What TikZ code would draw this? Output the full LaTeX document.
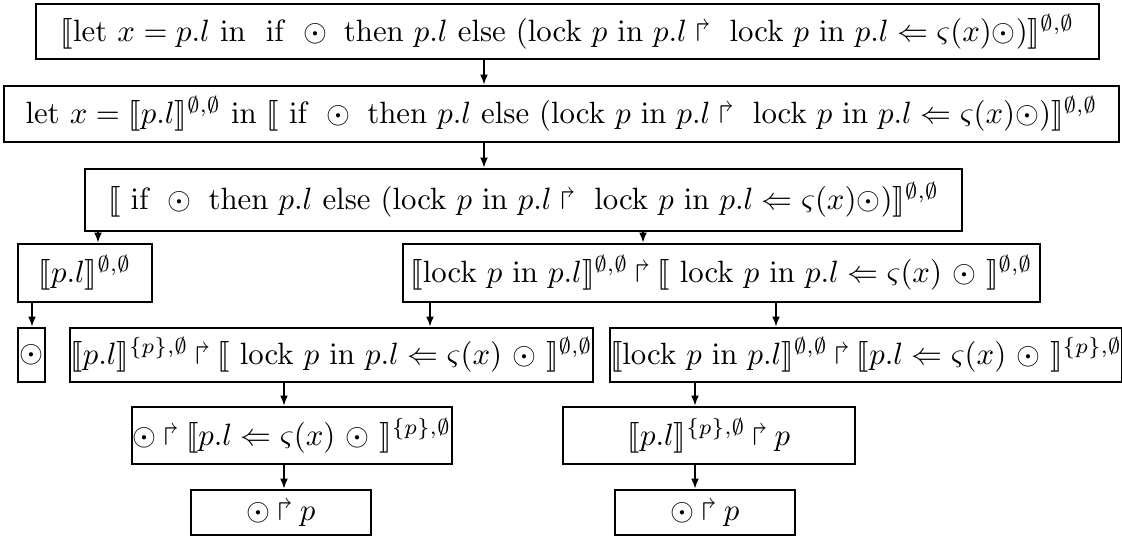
\RequirePackage{fix-cm}
\documentclass[tikz,border=0pt]{standalone}
\usepackage{amsmath,amssymb,stmaryrd}
\usetikzlibrary{arrows.meta}
\newcommand\pxu{0.357pt}
\newcommand\kw[1]{\mathrm{#1}}
\newcommand\seqr{\mathbin{\Rsh}}

\begin{document}
\begin{tikzpicture}[x=\pxu,y=-\pxu,>={Latex[length=3.6pt,width=2.8pt]},
font=\fontsize{11}{13.2}\selectfont,
box/.style 2 args={draw,line width=1pt,inner sep=0pt,minimum width=#1*\pxu,minimum height=#2*\pxu},
arr/.style={->,line width=.5pt}]
\useasboundingbox (0,0) rectangle (1122,538);
\node[box={1063}{55}] (b1) at (567.5,31.5) {$\llbracket\kw{let}\ x=p.l\ \kw{in}\ \ \kw{if}\ \odot\ \kw{then}\ p.l\ \kw{else}\ (\kw{lock}\ p\ \kw{in}\ p.l\Rsh\ \kw{lock}\ p\ \kw{in}\ p.l\Leftarrow\varsigma(x)\odot)\rrbracket^{\emptyset,\emptyset}$};
\node[box={1115}{56}] (b2) at (561.5,114) {$\kw{let}\ x=\llbracket p.l\rrbracket^{\emptyset,\emptyset}\ \kw{in}\ \llbracket\ \kw{if}\ \odot\ \kw{then}\ p.l\ \kw{else}\ (\kw{lock}\ p\ \kw{in}\ p.l\Rsh\ \kw{lock}\ p\ \kw{in}\ p.l\Leftarrow\varsigma(x)\odot)\rrbracket^{\emptyset,\emptyset}$};
\node[box={877}{62}] (b3) at (523.5,200) {$\llbracket\ \kw{if}\ \odot\ \kw{then}\ p.l\ \kw{else}\ (\kw{lock}\ p\ \kw{in}\ p.l\Rsh\ \kw{lock}\ p\ \kw{in}\ p.l\Leftarrow\varsigma(x)\odot)\rrbracket^{\emptyset,\emptyset}$};
\node[box={134}{58}] (b4) at (85,273) {$\llbracket p.l\rrbracket^{\emptyset,\emptyset}$};
\node[box={637}{58}] (b5) at (721.5,273) {$\llbracket\kw{lock}\ p\ \kw{in}\ p.l\rrbracket^{\emptyset,\emptyset}\seqr\llbracket\ \kw{lock}\ p\ \kw{in}\ p.l\Leftarrow\varsigma(x)\ \odot\ \rrbracket^{\emptyset,\emptyset}$};
\node[box={27}{54}] (bd) at (31.5,355) {$\odot$};
\node[box={523}{54}] (b6) at (331.5,355) {$\llbracket p.l\rrbracket^{\{p\},\emptyset}\seqr\llbracket\ \kw{lock}\ p\ \kw{in}\ p.l\Leftarrow\varsigma(x)\ \odot\ \rrbracket^{\emptyset,\emptyset}$};
\node[box={502}{54}] (b7) at (866,355) {$\llbracket\kw{lock}\ p\ \kw{in}\ p.l\rrbracket^{\emptyset,\emptyset}\seqr\llbracket p.l\Leftarrow\varsigma(x)\ \odot\ \rrbracket^{\{p\},\emptyset}$};
\node[box={320}{57}] (b8) at (292,435.5) {$\odot\seqr\llbracket p.l\Leftarrow\varsigma(x)\ \odot\ \rrbracket^{\{p\},\emptyset}$};
\node[box={292}{57}] (b9) at (709,435.5) {$\llbracket p.l\rrbracket^{\{p\},\emptyset}\seqr p$};
\node[box={180}{45}] (b10) at (281,512.5) {$\odot\seqr p$};
\node[box={180}{45}] (b11) at (705,512.5) {$\odot\seqr p$};
\draw[arr] (b1.south -| 484,0)--(b2.north -| 484,0);
\draw[arr] (b2.south -| 484,0)--(b3.north -| 484,0);
\draw[arr] (b3.south -| 98,0)--(b4.north -| 98,0);
\draw[arr] (b3.south -| 643,0)--(b5.north -| 643,0);
\draw[arr] (b4.south -| 32,0)--(bd.north -| 32,0);
\draw[arr] (b5.south -| 430,0)--(b6.north -| 430,0);
\draw[arr] (b5.south -| 776,0)--(b7.north -| 776,0);
\draw[arr] (b6.south -| 284,0)--(b8.north -| 284,0);
\draw[arr] (b7.south -| 695,0)--(b9.north -| 695,0);
\draw[arr] (b8.south -| 284,0)--(b10.north -| 284,0);
\draw[arr] (b9.south -| 695,0)--(b11.north -| 695,0);
\end{tikzpicture}
\end{document}
